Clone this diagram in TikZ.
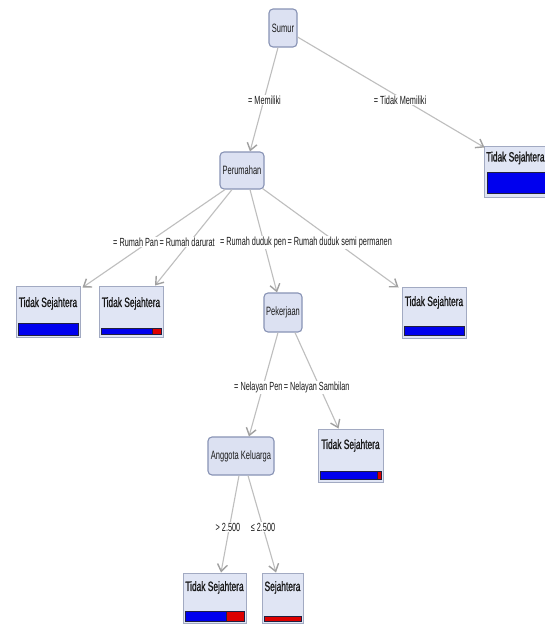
\documentclass[tikz,border=0pt]{standalone}
\usepackage{fontspec}
\setmainfont{Liberation Sans}[FakeStretch=0.62]
\newfontfamily\leaffont{Liberation Sans}[FakeStretch=0.62,FakeBold=1.2]
\usetikzlibrary{arrows.meta}
\definecolor{nodefill}{HTML}{DCE1F2}
\definecolor{nodeborder}{HTML}{8893B5}
\definecolor{leaffill}{HTML}{E0E5F4}
\definecolor{leafborder}{HTML}{A2AAC2}
\definecolor{edgegray}{HTML}{BEBEBE}
\definecolor{tipgray}{HTML}{A0A0A0}
\definecolor{barblue}{HTML}{0000EE}
\definecolor{barred}{HTML}{DD0000}
\definecolor{barline}{HTML}{202040}
\definecolor{txt}{HTML}{1A1A1A}
\begin{document}
\begin{tikzpicture}[x=1pt,y=-1pt,
  inode/.style={draw=nodeborder, fill=nodefill, rounded corners=4pt, line width=1.1pt,
    inner sep=0pt, font=\fontsize{12.1}{13}\selectfont, text=txt},
  leaf/.style={draw=leafborder, fill=leaffill, line width=1pt, inner sep=0pt},
  leaftext/.style={font=\leaffont\fontsize{13.5}{14}\selectfont, text=txt, inner sep=0pt},
  elabel/.style={fill=white, inner sep=1pt, font=\fontsize{11.8}{12}\selectfont, text=txt},
  edge/.style={draw=edgegray, line width=1.1pt,
    -{Straight Barb[length=7pt,width=10pt,line width=1.4pt,color=tipgray]}},
  bluebar/.style={fill=barblue, draw=barline, line width=0.5pt},
  redbar/.style={fill=barred, draw=barline, line width=0.5pt}]
\useasboundingbox (0,0) rectangle (545,624);
\fill[white] (0,0) rectangle (545,624);
\clip (0,0) rectangle (545,624);

% internal nodes
\node[inode, minimum width=28pt, minimum height=38pt] (sumur) at (283,28) {Sumur};
\node[inode, minimum width=44pt, minimum height=37pt] (perumahan) at (242,170.5) {Perumahan};
\node[inode, minimum width=38pt, minimum height=39pt] (pekerjaan) at (283,312.5) {Pekerjaan};
\node[inode, minimum width=66pt, minimum height=38pt] (anggota) at (241,456) {Anggota Keluarga};

% leaves
\node[leaf, minimum width=66pt, minimum height=51pt] (lr) at (517,171.5) {};
\node[leaf, minimum width=64pt, minimum height=51pt] (l1) at (48,311.5) {};
\node[leaf, minimum width=64pt, minimum height=51pt] (l2) at (131,311.5) {};
\node[leaf, minimum width=64pt, minimum height=51pt] (l3) at (434,312.5) {};
\node[leaf, minimum width=65pt, minimum height=53pt] (l4) at (350.5,455.5) {};
\node[leaf, minimum width=63pt, minimum height=50pt] (l5) at (214.5,598) {};
\node[leaf, minimum width=41pt, minimum height=50pt] (l6) at (282.5,598) {};

\node[leaftext, anchor=west] (tr) at (486,158) {Tidak Sejahtera};
\node[leaftext] (t1) at ([yshift=-18pt]l1.north) {Tidak Sejahtera};
\node[leaftext] (t2) at ([yshift=-18pt]l2.north) {Tidak Sejahtera};
\node[leaftext] (t3) at ([yshift=-16pt]l3.north) {Tidak Sejahtera};
\node[leaftext] (t4) at ([yshift=-17pt]l4.north) {Tidak Sejahtera};
\node[leaftext] (t5) at ([yshift=-15pt]l5.north) {Tidak Sejahtera};
\node[leaftext] (t6) at ([yshift=-15pt]l6.north) {Sejahtera};

% class bars
\draw[bluebar] (487,172) rectangle (550,193);
\draw[bluebar] (18,323) rectangle (78,335);
\draw[bluebar] (101,328) rectangle (152,334);
\draw[redbar] (152,328) rectangle (161,334);
\draw[bluebar] (404,326) rectangle (464,335);
\draw[bluebar] (320,471) rectangle (377,479);
\draw[redbar] (377,471) rectangle (381,479);
\draw[bluebar] (185,611) rectangle (226,621);
\draw[redbar] (226,611) rectangle (244,621);
\draw[redbar] (264,616) rectangle (301,621);

% connectors
\draw[edge] ([xshift=-5pt]sumur.south) -- ([xshift=8pt]perumahan.north);
\draw[edge] ([yshift=-9pt]sumur.east) -- ([xshift=1pt,yshift=-2pt]lr.north west);
\draw[edge] ([xshift=-17pt]perumahan.south) -- ([xshift=2pt,yshift=-2pt]l1.north east);
\draw[edge] ([xshift=-10pt]perumahan.south) -- ([xshift=24pt]l2.north);
\draw[edge] ([xshift=8pt]perumahan.south) -- ([xshift=-6pt]pekerjaan.north);
\draw[edge] ([xshift=-2pt,yshift=1pt]perumahan.south east) -- ([xshift=-3pt,yshift=-1pt]l3.north west);
\draw[edge] ([xshift=-5pt]pekerjaan.south) -- ([xshift=8pt]anggota.north);
\draw[edge] ([xshift=12pt]pekerjaan.south) -- ([xshift=-12pt]l4.north);
\draw[edge] ([xshift=-2pt]anggota.south) -- ([xshift=6.5pt]l5.north);
\draw[edge] ([xshift=7pt]anggota.south) -- ([xshift=-6.5pt]l6.north);

% edge labels
\node[elabel] (m1) at (264.5,100) {= Memiliki};
\node[elabel] (m2) at (400,100) {= Tidak Memiliki};
\node[elabel, anchor=west] (r1) at (112,242) {= Rumah Pan};
\node[elabel, anchor=west, inner xsep=0pt] (r2) at (r1.east) {= Rumah darurat};
\node[elabel, anchor=west] (r3) at ([xshift=4pt]r2.east) {= Rumah duduk pen};
\node[elabel, anchor=west, inner xsep=0pt] (r4) at (r3.east) {= Rumah duduk semi permanen};
\node[elabel, anchor=west] (n1) at (233,387) {= Nelayan Pen};
\node[elabel, anchor=west, inner xsep=0pt] (n2) at (n1.east) {= Nelayan Sambilan};
\node[elabel] (g1) at (228,527) {> 2.500};
\node[elabel] (g2) at (263,527) {≤ 2.500};
\end{tikzpicture}
\end{document}
